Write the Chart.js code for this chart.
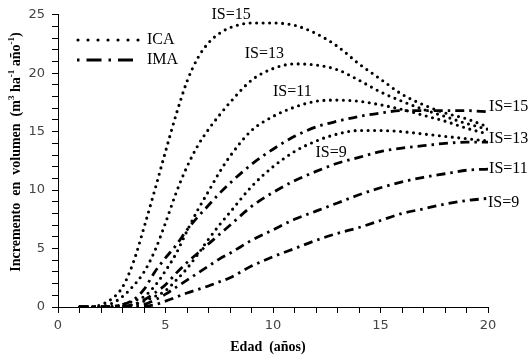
<!DOCTYPE html>
<html>
<head>
<meta charset="utf-8">
<script src="https://cdn.jsdelivr.net/npm/chart.js@4"></script>
<style>
  html, body { margin: 0; padding: 0; background: #fff; }
</style>
</head>
<body>
<canvas id="grafico" width="532" height="359"></canvas>
<script>
// Edad (años) y curvas de incremento
var edad = [1, 1.5, 2, 2.5, 3, 3.5, 4, 4.5, 5, 5.5, 6, 6.5, 7, 7.5, 8, 9, 10, 11, 12, 13, 14, 15, 16, 17, 18, 19, 20];

// ICA (incremento corriente anual), por índice de sitio
var icaIS15 = [0, 0, 0.2, 0.7, 1.7, 3.8, 6.8, 10, 13.3, 16.5, 19.3, 21.3, 22.6, 23.4, 23.9, 24.3, 24.3, 24.1, 23.4, 22.3, 20.8, 19.5, 18.2, 17.3, 16.6, 16.1, 15.4];
var icaIS13 = [0, 0, 0.05, 0.3, 0.9, 1.8, 3, 4.8, 7.2, 9.8, 12, 13.8, 15.2, 16.4, 17.5, 19.4, 20.4, 20.8, 20.7, 20.3, 19.4, 18.4, 17.6, 16.9, 16.3, 15.7, 15.2];
var icaIS11 = [0, 0, 0, 0.05, 0.2, 0.5, 0.9, 1.8, 3.1, 4.6, 6.5, 8.3, 9.9, 11.5, 12.9, 15.1, 16.3, 17.1, 17.6, 17.7, 17.6, 17.3, 16.9, 16.4, 15.9, 15.3, 14.8];
var icaIS9  = [0, 0, 0, 0, 0.05, 0.2, 0.5, 0.9, 1.4, 2.3, 3.3, 4.5, 5.8, 7, 8.1, 10.3, 12, 13.3, 14.2, 14.8, 15.1, 15.1, 15, 14.8, 14.6, 14.4, 14.2];

// IMA (incremento medio anual)
var imaIS15 = [0, 0, 0, 0.05, 0.2, 0.6, 1.5, 3, 4.2, 5.3, 6.6, 7.7, 8.7, 9.7, 10.6, 12.2, 13.5, 14.6, 15.4, 15.9, 16.3, 16.6, 16.8, 16.8, 16.8, 16.8, 16.7];
var imaIS13 = [0, 0, 0, 0, 0.05, 0.2, 0.6, 1.2, 1.9, 2.9, 3.8, 4.6, 5.4, 6.2, 7.0, 8.6, 9.8, 10.8, 11.6, 12.3, 12.8, 13.3, 13.6, 13.8, 14.0, 14.1, 14.1];
var imaIS11 = [0, 0, 0, 0, 0, 0.05, 0.2, 0.6, 1.1, 1.7, 2.3, 2.9, 3.5, 4.1, 4.6, 5.7, 6.6, 7.5, 8.2, 8.9, 9.6, 10.2, 10.7, 11.1, 11.4, 11.7, 11.8];
var imaIS9  = [0, 0, 0, 0, 0, 0, 0.05, 0.2, 0.5, 0.85, 1.2, 1.5, 1.8, 2.15, 2.5, 3.5, 4.3, 5.0, 5.7, 6.3, 6.8, 7.4, 8.0, 8.4, 8.8, 9.1, 9.3];

// Etiquetas de índice de sitio (posición en unidades de los ejes)
var etiquetas = [
    { t: 'IS=15', x: 8.05, y: 25.0, a: 'center' },
    { t: 'IS=13', x: 9.6, y: 21.7, a: 'center' },
    { t: 'IS=11', x: 10.9, y: 18.4, a: 'center' },
    { t: 'IS=9', x: 12.7, y: 13.2, a: 'center' },
    { t: 'IS=15', x: 20.05, y: 17.1, a: 'left' },
    { t: 'IS=13', x: 20.05, y: 14.4, a: 'left' },
    { t: 'IS=11', x: 20.05, y: 11.8, a: 'left' },
    { t: 'IS=9', x: 20.0, y: 8.95, a: 'left' }
];

var SERIF = '"Liberation Serif", "Times New Roman", serif';
var PUNTOS = [0, 6.5];
var RAYA_PUNTO = [9, 5, 2.5, 5];

function serie(valores, tipo) {
    var ica = tipo === 'ICA';
    return {
        label: tipo,
        data: edad.map(function (x, i) { return { x: x, y: valores[i] }; }),
        borderColor: '#000',
        borderWidth: ica ? 3.1 : 2.8,
        borderDash: ica ? PUNTOS : RAYA_PUNTO,
        borderCapStyle: ica ? 'round' : 'butt',
        pointRadius: 0,
        fill: false,
        cubicInterpolationMode: 'monotone'
    };
}

function textoRico(ctx, partes, cx, cy) {
    var total = 0;
    partes.forEach(function (p) {
        ctx.font = p.sup ? 'bold 9px ' + SERIF : 'bold 14px ' + SERIF;
        p.w = ctx.measureText(p.t).width;
        total += p.w;
    });
    var x = cx - total / 2;
    ctx.textAlign = 'left';
    ctx.textBaseline = 'alphabetic';
    partes.forEach(function (p) {
        ctx.font = p.sup ? 'bold 9px ' + SERIF : 'bold 14px ' + SERIF;
        ctx.fillText(p.t, x, p.sup ? cy - 6 : cy);
        x += p.w;
    });
}

var anotaciones = {
    id: 'anotaciones',
    afterDraw: function (chart) {
        var ctx = chart.ctx;
        var sx = chart.scales.x, sy = chart.scales.y;
        ctx.save();
        ctx.fillStyle = '#000';

        // etiquetas IS
        ctx.font = '16px ' + SERIF;
        ctx.textBaseline = 'middle';
        etiquetas.forEach(function (e) {
            ctx.textAlign = e.a;
            ctx.fillText(e.t, sx.getPixelForValue(e.x), sy.getPixelForValue(e.y));
        });

        // leyenda
        ctx.strokeStyle = '#000';
        ctx.lineWidth = 3.2;
        ctx.lineCap = 'round';
        ctx.setLineDash([0, 10]);
        ctx.beginPath(); ctx.moveTo(78, 40); ctx.lineTo(139, 40); ctx.stroke();
        ctx.lineWidth = 2.8;
        ctx.lineCap = 'butt';
        ctx.setLineDash([2.5, 7, 15, 7]);
        ctx.beginPath(); ctx.moveTo(77, 60); ctx.lineTo(139, 60); ctx.stroke();
        ctx.setLineDash([]);
        ctx.textAlign = 'left';
        ctx.textBaseline = 'middle';
        ctx.font = '16px ' + SERIF;
        ctx.fillText('ICA', 147, 40);
        ctx.fillText('IMA', 147, 60);

        // título eje x
        ctx.font = 'bold 14px ' + SERIF;
        ctx.textAlign = 'center';
        ctx.textBaseline = 'alphabetic';
        ctx.fillText('Edad  (años)', 268, 351);

        // título eje y
        ctx.translate(20, 152);
        ctx.rotate(-Math.PI / 2);
        textoRico(ctx, [
            { t: 'Incremento  en  volumen  (m' },
            { t: '3', sup: true },
            { t: ' ha' },
            { t: '-1', sup: true },
            { t: ' año' },
            { t: '-1', sup: true },
            { t: ')' }
        ], 0, 0);
        ctx.restore();
    }
};

var ejeComun = {
    type: 'linear',
    grid: { drawOnChartArea: false, drawTicks: true, tickLength: 6, color: '#000', lineWidth: 1 },
    border: { display: true, color: '#000', width: 1 },
    ticks: {
        stepSize: 1,
        autoSkip: false,
        color: '#444',
        font: { family: '"DejaVu Sans", Verdana, sans-serif', size: 13 },
        callback: function (v) { return v % 5 === 0 ? String(v) : ''; }
    }
};

new Chart(document.getElementById('grafico'), {
    type: 'line',
    data: {
        datasets: [
            serie(icaIS15, 'ICA'), serie(icaIS13, 'ICA'), serie(icaIS11, 'ICA'), serie(icaIS9, 'ICA'),
            serie(imaIS15, 'IMA'), serie(imaIS13, 'IMA'), serie(imaIS11, 'IMA'), serie(imaIS9, 'IMA')
        ]
    },
    options: {
        responsive: false,
        animation: false,
        devicePixelRatio: 1,
        layout: { padding: { top: 11, right: 44, left: 0, bottom: 0 } },
        plugins: { legend: { display: false }, tooltip: { enabled: false } },
        scales: {
            x: Object.assign({}, ejeComun, {
                min: 0, max: 20,
                ticks: Object.assign({}, ejeComun.ticks, { padding: 5, maxRotation: 0 }),
                afterFit: function (s) { s.height = 52; }
            }),
            y: Object.assign({}, ejeComun, {
                min: 0, max: 25,
                ticks: Object.assign({}, ejeComun.ticks, { padding: 7 }),
                afterFit: function (s) { s.width = 58; }
            })
        }
    },
    plugins: [anotaciones]
});
</script>
</body>
</html>
